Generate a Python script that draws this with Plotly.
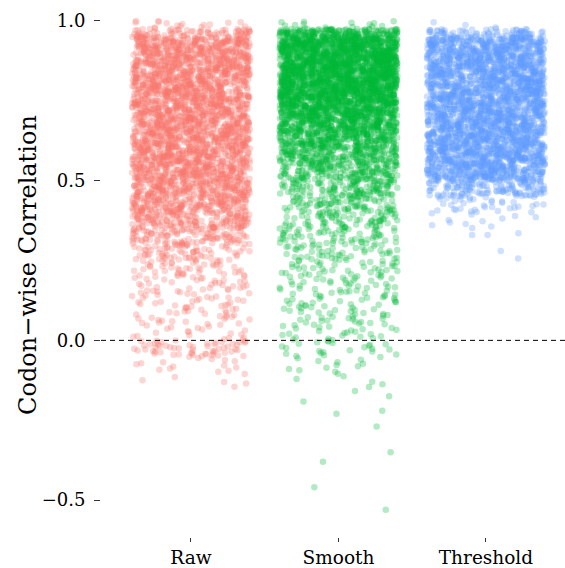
import numpy as np
import plotly.graph_objects as go

# ---- data ----
categories = ["Raw", "Smooth", "Threshold"]
colors = ["#F8766D", "#00BA38", "#619CFF"]

# lower edges of correlation bins (last two bins are 0.025 wide)
bin_lower = [-0.55, -0.50, -0.45, -0.40, -0.35, -0.30, -0.25, -0.20, -0.15, -0.10,
             -0.05, 0.00, 0.05, 0.10, 0.15, 0.20, 0.25, 0.30, 0.35, 0.40,
             0.45, 0.50, 0.55, 0.60, 0.65, 0.70, 0.75, 0.80, 0.85, 0.90,
             0.95, 0.975]
bin_upper_last = 1.0

# number of codons per bin, estimated from point density
raw_counts = [0, 0, 0, 0, 0, 0, 0, 0, 5, 15,
              55, 20, 28, 30, 35, 45, 70, 110, 160, 200,
              225, 245, 255, 260, 260, 260, 260, 260, 260, 250,
              70, 15]
smooth_counts = [0, 0, 0, 0, 0, 0, 0, 3, 6, 12,
                 22, 25, 30, 32, 35, 40, 48, 60, 72, 90,
                 120, 160, 210, 270, 340, 420, 500, 520, 520, 500,
                 170, 15]
threshold_counts = [0, 0, 0, 0, 0, 0, 0, 0, 0, 0,
                    0, 0, 0, 0, 0, 0, 0, 0, 12, 35,
                    130, 280, 310, 310, 310, 310, 310, 310, 310, 300,
                    70, 3]

# isolated points read individually
raw_outliers = [-0.13, 0.995, 1.0]
smooth_outliers = [-0.53, -0.46, -0.38, -0.35, -0.27, -0.23, -0.22]
threshold_outliers = [0.335, 0.33, 0.33, 0.28, 0.256]

counts_by_cat = [raw_counts, smooth_counts, threshold_counts]
outliers_by_cat = [raw_outliers, smooth_outliers, threshold_outliers]

# ---- horizontal jitter (like geom_jitter): deterministic integer hash ----
JIT = 0.4
MASK = (1 << 64) - 1


def jitter(k):
    out = []
    for v in k:
        z = (int(v) * 0x9E3779B97F4A7C15 + 0x632BE59BD9B4E019) & MASK
        z = ((z ^ (z >> 30)) * 0xBF58476D1CE4E5B9) & MASK
        z = ((z ^ (z >> 27)) * 0x94D049BB133111EB) & MASK
        z = z ^ (z >> 31)
        out.append((z >> 11) / float(1 << 53))
    return np.array(out)


edges = bin_lower + [bin_upper_last]

fig = go.Figure()
for ci, (cat, col) in enumerate(zip(categories, colors)):
    xs, ys = [], []
    idx = 10000 * ci + 17
    for b, n in enumerate(counts_by_cat[ci]):
        if n == 0:
            continue
        lo, hi = edges[b], edges[b + 1]
        k = np.arange(n) + idx
        xs.append((ci + 1) + (2 * jitter(k) - 1) * JIT)
        ys.append(lo + (np.arange(n) + 0.5) / n * (hi - lo))
        idx += n
    ko = np.arange(len(outliers_by_cat[ci])) + idx
    xs.append((ci + 1) + (2 * jitter(ko) - 1) * JIT)
    ys.append(np.array(outliers_by_cat[ci]))
    x = np.concatenate(xs)
    y = np.concatenate(ys)
    fig.add_trace(go.Scatter(
        x=x, y=y, mode="markers", name=cat,
        marker=dict(size=6.5, color=col, opacity=0.3, line=dict(width=0)),
        hoverinfo="skip", showlegend=False,
    ))

fig.add_shape(type="line", xref="paper", yref="y", x0=0, x1=1, y0=0, y1=0,
              line=dict(color="black", width=1, dash="5px,4px"), layer="above")

font_family = "DejaVu Serif"
fig.add_annotation(
    text="Codon\u2212wise Correlation", textangle=-90,
    xref="paper", yref="paper", x=-0.157, y=0.507,
    xanchor="center", yanchor="middle", showarrow=False,
    font=dict(family=font_family, size=24, color="black"),
)

fig.update_layout(
    width=565, height=568,
    margin=dict(l=101, r=0, t=0, b=31),
    paper_bgcolor="white", plot_bgcolor="white",
    font=dict(family=font_family, color="black"),
    xaxis=dict(
        range=[0.39, 3.536], tickvals=[1, 2, 3], ticktext=categories,
        ticks="outside", ticklen=4, tickcolor="#333333", tickwidth=1,
        showgrid=False, zeroline=False, showline=False,
        tickfont=dict(family=font_family, size=18.5, color="black"),
    ),
    yaxis=dict(
        range=[-0.6156, 1.0656], tickvals=[-0.5, 0.0, 0.5, 1.0],
        ticktext=["\u22120.5", "0.0", "0.5", "1.0"],
        ticks="outside", ticklen=6, tickcolor="#333333", tickwidth=1,
        ticklabelstandoff=5,
        showgrid=False, zeroline=False, showline=False,
        tickfont=dict(family=font_family, size=18, color="black"),
    ),
)

fig.write_html("out.html")
